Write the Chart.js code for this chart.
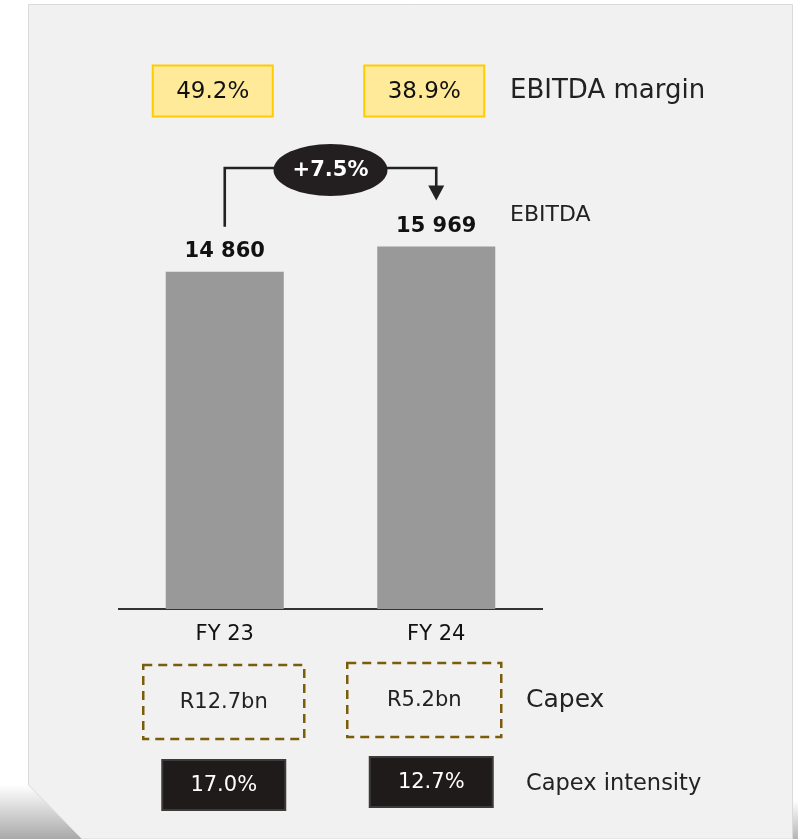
<!DOCTYPE html>
<html>
<head>
<meta charset="utf-8">
<script src="https://cdn.jsdelivr.net/npm/chart.js@4.4.1/dist/chart.umd.min.js"></script>
<style>
  html, body { margin: 0; padding: 0; background: #ffffff; }
  canvas { display: block; }
</style>
</head>
<body>
<canvas id="ebitda" width="798" height="839"></canvas>
<script>
// datos del grafico
var categorias = ["FY 23", "FY 24"];
var ebitda = [14860, 15969];
var ebitdaTextos = ["14 860", "15 969"];
var margenes = ["49.2%", "38.9%"];
var capex = ["R12.7bn", "R5.2bn"];
var intensidad = ["17.0%", "12.7%"];
var crecimiento = "+7.5%";

var fuente = "'DejaVu Sans', sans-serif";

function cajaTexto(ctx, cx, cy, w, h, texto, fondo, borde, colorTexto, tam, dash) {
  ctx.save();
  if (fondo) {
    ctx.fillStyle = fondo;
    ctx.fillRect(cx - w / 2, cy - h / 2, w, h);
  }
  if (borde) {
    ctx.strokeStyle = borde;
    ctx.lineWidth = dash ? 2.5 : 2;
    if (dash) ctx.setLineDash(dash);
    ctx.strokeRect(cx - w / 2, cy - h / 2, w, h);
    ctx.setLineDash([]);
  }
  ctx.fillStyle = colorTexto;
  ctx.font = tam + "px " + fuente;
  ctx.textAlign = "center";
  ctx.textBaseline = "middle";
  ctx.fillText(texto, cx, cy + 1);
  ctx.restore();
}

// fondo del panel con esquina doblada
var fondoPanel = {
  id: "fondoPanel",
  beforeDraw: function (chart) {
    var ctx = chart.ctx;
    ctx.save();
    ctx.fillStyle = "#ffffff";
    ctx.fillRect(0, 0, chart.width, chart.height);

    var g = ctx.createLinearGradient(0, 785, 0, 839);
    g.addColorStop(0, "#ffffff");
    g.addColorStop(1, "#a9a9a9");
    ctx.fillStyle = g;
    ctx.fillRect(0, 785, 90, 54);
    var g2 = ctx.createLinearGradient(0, 800, 0, 839);
    g2.addColorStop(0, "#ffffff");
    g2.addColorStop(1, "#b5b5b5");
    ctx.fillStyle = g2;
    ctx.fillRect(792, 800, 6, 39);

    ctx.beginPath();
    ctx.moveTo(28.5, 4.5);
    ctx.lineTo(792.5, 4.5);
    ctx.lineTo(792.5, 839);
    ctx.lineTo(82, 839);
    ctx.lineTo(28.5, 785);
    ctx.closePath();
    ctx.fillStyle = "#f1f1f1";
    ctx.fill();
    ctx.strokeStyle = "#dadada";
    ctx.lineWidth = 1;
    ctx.stroke();
    ctx.restore();
  },
};

// anotaciones: etiquetas, flecha, cajas
var anotaciones = {
  id: "anotaciones",
  afterDraw: function (chart) {
    var ctx = chart.ctx;
    var xs = chart.scales.x;
    var ys = chart.scales.y;
    var cx = categorias.map(function (c, i) { return xs.getPixelForValue(i); });
    var tops = ebitda.map(function (v) { return ys.getPixelForValue(v); });

    // valores encima de las barras
    ctx.save();
    ctx.fillStyle = "#111111";
    ctx.font = "bold 21px " + fuente;
    ctx.textAlign = "center";
    ctx.textBaseline = "middle";
    ebitdaTextos.forEach(function (t, i) {
      ctx.fillText(t, cx[i], tops[i] - 20);
    });
    ctx.restore();

    // flecha de crecimiento
    var yLinea = 168;
    ctx.save();
    ctx.strokeStyle = "#222222";
    ctx.lineWidth = 2.6;
    ctx.beginPath();
    ctx.moveTo(cx[0], tops[0] - 45);
    ctx.lineTo(cx[0], yLinea);
    ctx.lineTo(cx[1], yLinea);
    ctx.lineTo(cx[1], tops[1] - 60);
    ctx.stroke();
    ctx.fillStyle = "#222222";
    ctx.beginPath();
    ctx.moveTo(cx[1] - 8, tops[1] - 61);
    ctx.lineTo(cx[1] + 8, tops[1] - 61);
    ctx.lineTo(cx[1], tops[1] - 46);
    ctx.closePath();
    ctx.fill();

    var mx = (cx[0] + cx[1]) / 2;
    ctx.fillStyle = "#231f20";
    ctx.beginPath();
    ctx.ellipse(mx, 170, 57, 26, 0, 0, Math.PI * 2);
    ctx.fill();
    ctx.fillStyle = "#ffffff";
    ctx.font = "bold 21px " + fuente;
    ctx.textAlign = "center";
    ctx.textBaseline = "middle";
    ctx.fillText(crecimiento, mx, 171);
    ctx.restore();

    // filas de cajas
    margenes.forEach(function (t, i) {
      cajaTexto(ctx, cx[i] - 12, 91, 120, 51, t, "#ffea99", "#ffcc00", "#111111", 23);
    });
    capex.forEach(function (t, i) {
      cajaTexto(ctx, cx[i] - 1 - 11 * i, 702 - 2 * i, i === 0 ? 161 : 154, 74, t, null, "#7a5c0a", "#222222", 21, [9, 6]);
    });
    intensidad.forEach(function (t, i) {
      cajaTexto(ctx, cx[i] - 1 - 4 * i, 785 - 3 * i, 123, 50, t, "#1f1b1b", "#3c3a3a", "#ffffff", 21);
    });

    // rotulos de la derecha
    ctx.save();
    ctx.fillStyle = "#222222";
    ctx.textAlign = "left";
    ctx.textBaseline = "middle";
    ctx.font = "26px " + fuente;
    ctx.fillText("EBITDA margin", 510, 91);
    ctx.font = "22px " + fuente;
    ctx.fillText("EBITDA", 510, 215);
    ctx.font = "25px " + fuente;
    ctx.fillText("Capex", 526, 700);
    ctx.font = "22.5px " + fuente;
    ctx.fillText("Capex intensity", 526, 784);
    ctx.restore();
  },
};

var ctx1 = document.getElementById("ebitda").getContext("2d");
var grafico = new Chart(ctx1, {
  type: "bar",
  data: {
    labels: categorias,
    datasets: [
      {
        label: "EBITDA",
        data: ebitda,
        backgroundColor: "#999999",
        borderWidth: 0,
        barPercentage: 0.558,
        categoryPercentage: 1.0,
      },
    ],
  },
  options: {
    responsive: false,
    animation: false,
    layout: {
      padding: { left: 119, right: 256, top: 155, bottom: 190 },
    },
    plugins: {
      legend: { display: false },
      tooltip: { enabled: false },
    },
    scales: {
      x: {
        grid: { display: false, drawTicks: false },
        border: { display: true, color: "#333333", width: 2 },
        ticks: {
          color: "#111111",
          padding: 13,
          font: { family: fuente, size: 21 },
        },
        afterFit: function (scale) {
          scale.height = 40;
        },
      },
      y: {
        display: false,
        min: 0,
        max: 20000,
      },
    },
  },
  plugins: [fondoPanel, anotaciones],
});
</script>
</body>
</html>
